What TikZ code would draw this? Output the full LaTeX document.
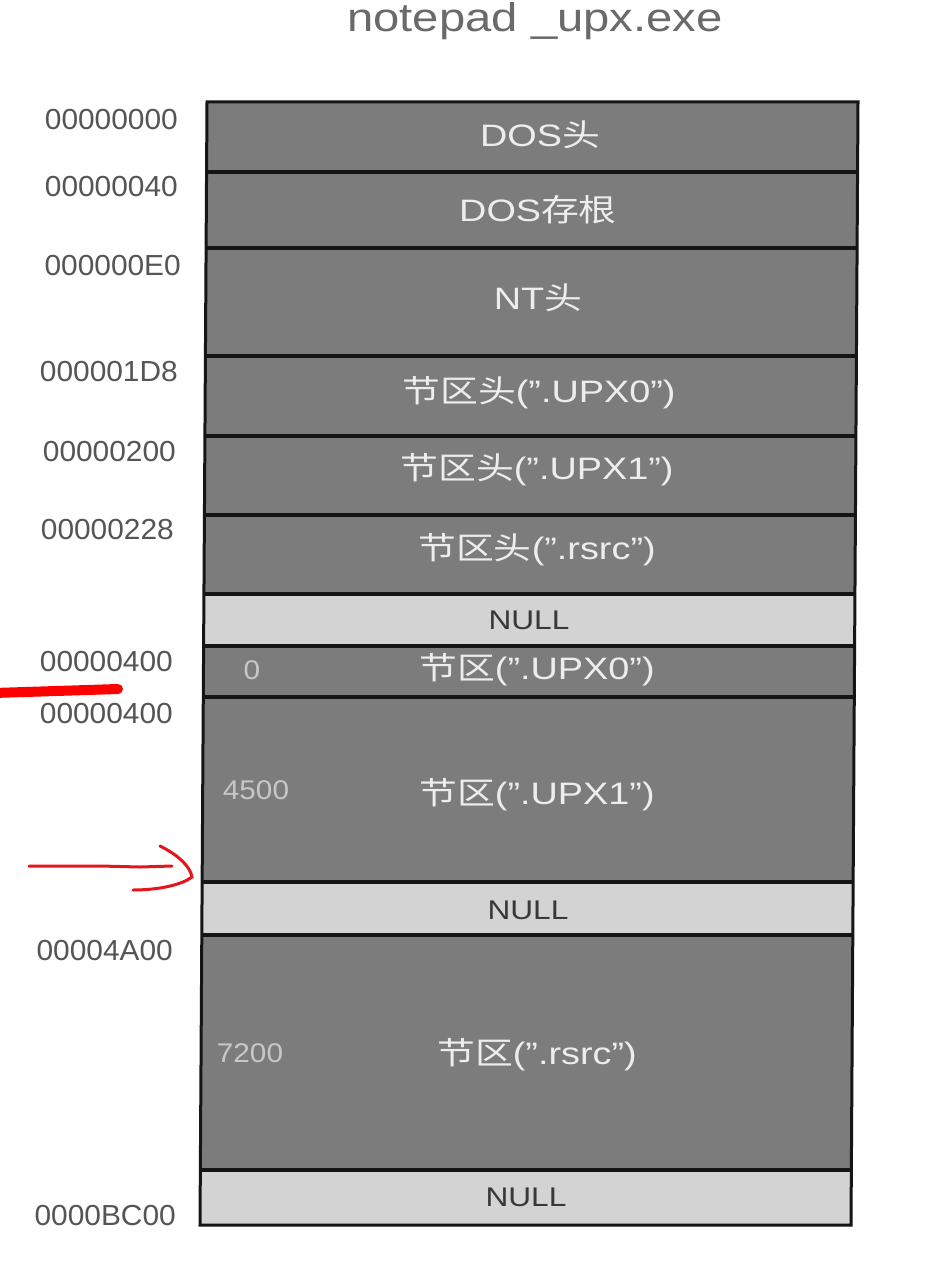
\documentclass[tikz,border=0pt]{standalone}
\usepackage{fontspec}
\setmainfont{Liberation Sans}
\newfontfamily\cjk{Noto Sans CJK SC}
\newcommand\hs[2]{\scalebox{#1}[1]{#2}}
\definecolor{dk}{HTML}{7C7C7C}
\definecolor{lt}{HTML}{D3D3D3}
\definecolor{sepc}{HTML}{151515}
\definecolor{lbl}{HTML}{555555}
\definecolor{ttl}{HTML}{6A6A6A}
\definecolor{redmk}{HTML}{E8141C}
\tikzset{
  boxtxt/.style={text=white!93!black, font=\fontsize{31}{31}\selectfont, inner sep=0pt, anchor=center},
  nulltxt/.style={text=black!78, font=\fontsize{27}{27}\selectfont, inner sep=0pt, anchor=center},
  numtxt/.style={text=black!22, font=\fontsize{27}{27}\selectfont, inner sep=0pt, anchor=center},
  addr/.style={text=lbl, font=\fontsize{29}{29}\selectfont, inner sep=0pt, anchor=east},
  seprule/.style={draw=sepc, line width=3.5pt},
}
\begin{document}
\begin{tikzpicture}[x=1pt,y=-1pt]
\useasboundingbox[fill=white] (0,0) rectangle (948,1281);
% title
\node[text=ttl, font=\fontsize{40}{40}\selectfont, inner sep=0pt] (title) at (535,21) {\hs{1.18}{notepad \_upx.exe}};
% rows
\foreach \ya/\yb/\c in {102/172/dk,172/248/dk,248/356/dk,356/436/dk,436/515/dk,515/594/dk,594/646/lt,646/697/dk,697/882/dk,882/935/lt,935/1170/dk,1170/1225/lt}{
  \pgfmathsetmacro\la{207-7*(\ya-102)/1123}
  \pgfmathsetmacro\lb{207-7*(\yb-102)/1123}
  \pgfmathsetmacro\ra{858-7*(\ya-102)/1123}
  \pgfmathsetmacro\rb{858-7*(\yb-102)/1123}
  \fill[\c] (\la,\ya) -- (\ra,\ya) -- (\rb,\yb) -- (\lb,\yb) -- cycle;
}
\foreach \yb in {172,248,356,436,515,594,646,697,882,935,1170}{
  \pgfmathsetmacro\lb{207-7*(\yb-102)/1123}
  \pgfmathsetmacro\rb{858-7*(\yb-102)/1123}
  \draw[seprule] (\lb,\yb) -- (\rb,\yb);
}
\draw[draw=sepc, line width=3pt] (207,102) -- (858,102) -- (851,1225) -- (200,1225) -- cycle;
% box texts
\node[boxtxt] (t1) at (540,135) {\hs{1.22}{DOS{\cjk 头}}};
\node[boxtxt] (t2) at (538,210) {\hs{1.22}{DOS{\cjk 存根}}};
\node[boxtxt] (t3) at (538,298) {\hs{1.22}{NT{\cjk 头}}};
\node[boxtxt] (t4) at (539,393) {\hs{1.22}{{\cjk 节区头}(".UPX0")}};
\node[boxtxt] (t5) at (537,470) {\hs{1.22}{{\cjk 节区头}(".UPX1")}};
\node[boxtxt] (t6) at (537,550) {\hs{1.22}{{\cjk 节区头}(".rsrc")}};
\node[nulltxt] (t7) at (529,620) {\hs{1.17}{NULL}};
\node[boxtxt] (t8) at (537,670) {\hs{1.22}{{\cjk 节区}(".UPX0")}};
\node[boxtxt] (t9) at (537,795) {\hs{1.22}{{\cjk 节区}(".UPX1")}};
\node[nulltxt] (t10) at (528,910) {\hs{1.17}{NULL}};
\node[boxtxt] (t11) at (537,1055) {\hs{1.22}{{\cjk 节区}(".rsrc")}};
\node[nulltxt] (t12) at (526,1197) {\hs{1.17}{NULL}};
% small numbers
\node[numtxt] (n0) at (252,670) {\hs{1.1}{0}};
\node[numtxt] (n4500) at (256,790) {\hs{1.1}{4500}};
\node[numtxt] (n7200) at (250,1053) {\hs{1.1}{7200}};
% addresses
\node[addr] (a1) at (178,120) {\hs{1.03}{00000000}};
\node[addr] (a2) at (178,187) {\hs{1.03}{00000040}};
\node[addr] (a3) at (181,266) {\hs{1.03}{000000E0}};
\node[addr] (a4) at (178,372) {\hs{1.03}{000001D8}};
\node[addr] (a5) at (176,452) {\hs{1.03}{00000200}};
\node[addr] (a6) at (174,530) {\hs{1.03}{00000228}};
\node[addr] (a7) at (173,662) {\hs{1.03}{00000400}};
\node[addr] (a8) at (173,714) {\hs{1.03}{00000400}};
\node[addr] (a9) at (173,951) {\hs{1.03}{00004A00}};
\node[addr] (a10) at (176,1216) {\hs{1.03}{0000BC00}};
% red marks
\draw[red, line width=10pt, line cap=round] (-6,693) -- (118,689);
\draw[redmk, line width=3pt, line cap=round] (29,866) -- (100,866) -- (140,867) -- (172,866);
\draw[redmk, line width=3pt, line cap=round] (160,846) .. controls (178,855) and (190,866) .. (192,877) .. controls (180,886) and (155,890) .. (133,890);
\end{tikzpicture}
\end{document}
